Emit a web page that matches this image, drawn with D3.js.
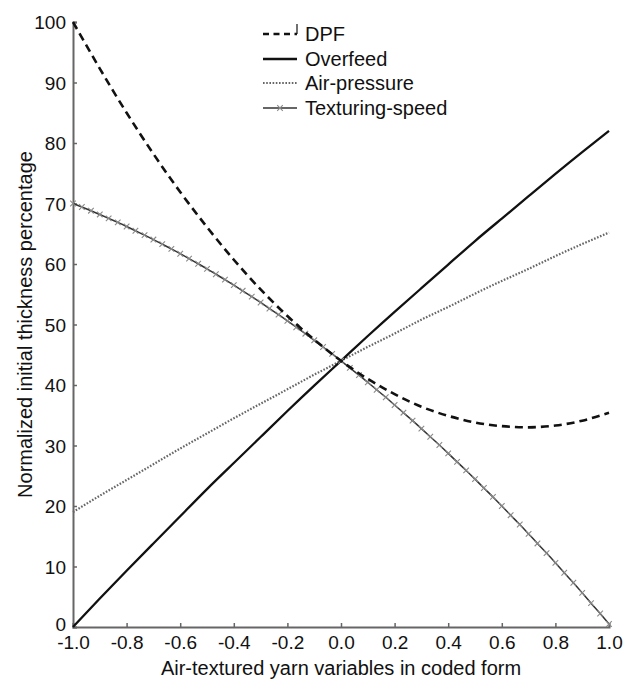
<!DOCTYPE html>
<html>
<head>
<meta charset="utf-8">
<script src="https://cdn.jsdelivr.net/npm/d3@7"></script>
<style>
  html, body { margin: 0; padding: 0; background: #fff; }
  svg { display: block; font-family: "Liberation Sans", Arial, sans-serif; }
</style>
</head>
<body>
<svg id="chart" width="637" height="681"></svg>
<script>
// ---- data ----
const xCoded = [-1.0, -0.9, -0.8, -0.7, -0.6, -0.5, -0.4, -0.3, -0.2, -0.1, 0.0,
                 0.1, 0.2, 0.3, 0.4, 0.5, 0.6, 0.7, 0.8, 0.9, 1.0];
const dpf = [100.0, 92.3, 85.0, 78.2, 71.9, 66.1, 60.7, 55.8, 51.4, 47.5, 44.0,
             41.0, 38.5, 36.4, 34.9, 33.8, 33.2, 33.0, 33.3, 34.1, 35.4];
const overfeed = [0.0, 4.7, 9.3, 13.8, 18.3, 22.8, 27.1, 31.4, 35.7, 39.9, 44.0,
                  48.1, 52.1, 56.0, 59.9, 63.8, 67.5, 71.2, 74.9, 78.5, 82.0];
const airPressure = [19.0, 21.7, 24.3, 26.9, 29.5, 32.0, 34.5, 36.9, 39.3, 41.7, 44.0,
                     46.3, 48.5, 50.8, 52.9, 55.1, 57.2, 59.2, 61.3, 63.3, 65.2];
const texturingX = [-1.000, -0.967, -0.933, -0.900, -0.867, -0.833, -0.800, -0.767, -0.733, -0.700,
                    -0.667, -0.633, -0.600, -0.567, -0.533, -0.500, -0.467, -0.433, -0.400, -0.367,
                    -0.333, -0.300, -0.267, -0.233, -0.200, -0.167, -0.133, -0.100, -0.067, -0.033,
                     0.000,  0.033,  0.067,  0.100,  0.133,  0.167,  0.200,  0.233,  0.267,  0.300,
                     0.333,  0.367,  0.400,  0.433,  0.467,  0.500,  0.533,  0.567,  0.600,  0.633,
                     0.667,  0.700,  0.733,  0.767,  0.800,  0.833,  0.867,  0.900,  0.933,  0.967,
                     1.000];
const texturingSpeed = [70.00, 69.42, 68.81, 68.19, 67.54, 66.88, 66.20, 65.50, 64.78, 64.04,
                        63.28, 62.50, 61.70, 60.88, 60.04, 59.19, 58.31, 57.42, 56.50, 55.57,
                        54.61, 53.64, 52.64, 51.63, 50.60, 49.55, 48.48, 47.39, 46.28, 45.15,
                        44.00, 42.83, 41.64, 40.44, 39.21, 37.97, 36.70, 35.42, 34.11, 32.79,
                        31.45, 30.08, 28.70, 27.30, 25.88, 24.44, 22.98, 21.50, 20.00, 18.48,
                        16.94, 15.39, 13.81, 12.22, 10.60, 8.97, 7.31, 5.64, 3.94, 2.23,
                        0.50];
const xTicks = [-1.0, -0.8, -0.6, -0.4, -0.2, 0.0, 0.2, 0.4, 0.6, 0.8, 1.0];
const yTicks = [0, 10, 20, 30, 40, 50, 60, 70, 80, 90, 100];
const seriesNames = ["DPF", "Overfeed", "Air-pressure", "Texturing-speed"];
const xTitle = "Air-textured yarn variables in coded form";
const yTitle = "Normalized initial thickness percentage";

// ---- layout ----
const svg = d3.select("#chart");
const x = d3.scaleLinear().domain([-1, 1]).range([73, 609]);
const y = d3.scaleLinear().domain([0, 100]).range([627, 22]);
const axisColor = "#666";
const textColor = "#111";
const fontFam = "'Liberation Sans', Arial, sans-serif";

// axes
const xAxis = d3.axisBottom(x).tickValues(xTicks).tickSize(-4).tickPadding(9)
  .tickFormat(d => d.toFixed(1));
const gx = svg.append("g").attr("transform", `translate(0,${y(0)})`).call(xAxis);
const yAxis = d3.axisLeft(y).tickValues(yTicks).tickSize(-4).tickPadding(7)
  .tickFormat(d => String(d));
const gy = svg.append("g").attr("transform", `translate(${x(-1)},0)`).call(yAxis);
[gx, gy].forEach(g => {
  g.select(".domain").attr("stroke", axisColor).attr("stroke-width", 2);
  g.selectAll(".tick line").attr("stroke", axisColor).attr("stroke-width", 1.5);
  g.selectAll(".tick text").attr("fill", textColor).style("font-size", "19px")
    .style("font-family", fontFam);
});
gx.selectAll(".tick text").attr("dy", "0.71em");
gy.selectAll(".tick text").attr("dy", "0.36em");
gy.selectAll(".tick text").filter(d => d === 0).attr("dy", "0.2em");

// titles
svg.append("text").attr("x", (x(-1) + x(1)) / 2).attr("y", 675)
  .attr("text-anchor", "middle").attr("fill", textColor).style("font-size", "20px")
  .text(xTitle);
svg.append("text").attr("transform", `translate(32,${(y(0) + y(100)) / 2}) rotate(-90)`)
  .attr("text-anchor", "middle").attr("fill", textColor).style("font-size", "20px")
  .text(yTitle);

// lines
const line = d3.line().x(d => x(d[0])).y(d => y(d[1])).curve(d3.curveNatural);
const styles = [
  { color: "#111", width: 2.6, dash: "8,5" },
  { color: "#111", width: 2.3, dash: null },
  { color: "#666", width: 2.2, dash: "1.6,1.6" },
  { color: "#333", width: 1.5, dash: null }
];
const seriesData = [
  xCoded.map((v, i) => [v, dpf[i]]),
  xCoded.map((v, i) => [v, overfeed[i]]),
  xCoded.map((v, i) => [v, airPressure[i]]),
  texturingX.map((v, i) => [v, texturingSpeed[i]])
];
const markerPath = (cx, cy, s) =>
  `M${cx - s},${cy - s}L${cx + s},${cy + s}M${cx - s},${cy + s}L${cx + s},${cy - s}`;
const plot = svg.append("g");
// draw order: air-pressure, overfeed, texturing, dpf
[2, 1, 3, 0].forEach(k => {
  plot.append("path").datum(seriesData[k]).attr("d", line)
    .attr("fill", "none").attr("stroke", styles[k].color)
    .attr("stroke-width", styles[k].width)
    .attr("stroke-dasharray", styles[k].dash);
  if (k === 3) {
    plot.append("g").selectAll("path").data(seriesData[3]).join("path")
      .attr("d", d => markerPath(x(d[0]), y(d[1]), 2.8))
      .attr("stroke", "#8a8a8a").attr("stroke-width", 1.1).attr("fill", "none");
  }
});

// legend
const legend = svg.append("g");
const baselines = [41, 66, 90, 115];
seriesNames.forEach((name, k) => {
  const ly = baselines[k] - 7;
  legend.append("line").attr("x1", 263).attr("x2", 297).attr("y1", ly).attr("y2", ly)
    .attr("stroke", styles[k].color).attr("stroke-width", styles[k].width)
    .attr("stroke-dasharray", k === 0 ? "6,4.5" : styles[k].dash);
  if (k === 0) {
    legend.append("path").attr("d", `M297,${ly - 10}L297,${ly}`)
      .attr("stroke", "#111").attr("stroke-width", 1.2);
  }
  if (k === 3) {
    legend.append("path").attr("d", markerPath(280, ly, 2.8))
      .attr("stroke", "#8a8a8a").attr("stroke-width", 1.1);
  }
  legend.append("text").attr("x", 305).attr("y", baselines[k]).attr("fill", textColor)
    .style("font-size", "20px").text(name);
});
</script>
</body>
</html>
